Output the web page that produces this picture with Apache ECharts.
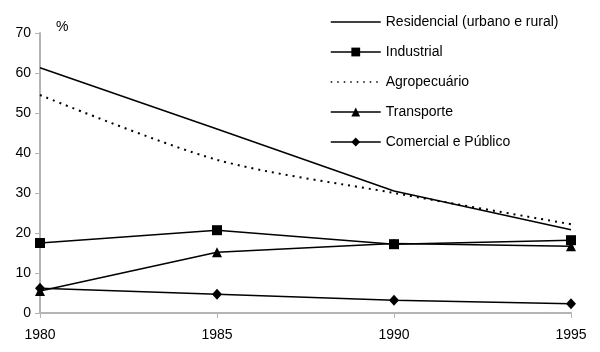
<!DOCTYPE html>
<html>
<head>
<meta charset="utf-8">
<script src="https://cdn.jsdelivr.net/npm/echarts@6/dist/echarts.min.js"></script>
<style>
  html, body { margin: 0; padding: 0; background: #fff; }
  #chart { width: 600px; height: 352px; }
</style>
</head>
<body>
<div id="chart"></div>
<script>
const years = ["1980", "1985", "1990", "1995"];
const residencial = [61.3, 46.0, 30.5, 20.8];
const industrial = [17.5, 20.7, 17.2, 18.2];
const agropecuario = [54.5, 38.3, 30.0, 22.2];
const transporte = [5.5, 15.2, 17.4, 16.7];
const comercial = [6.2, 4.7, 3.2, 2.3];
const yTicks = { min: 0, max: 70, interval: 10 };

const lineBase = { color: "#000", width: 1.5 };

let option = {
  animation: false,
  textStyle: { fontFamily: "Liberation Sans, Arial, sans-serif" },
  legend: {
    orient: "vertical",
    left: 330,
    top: 15,
    padding: 0,
    itemWidth: 50,
    itemHeight: 11,
    itemGap: 16,
    lineStyle: { width: 1.5 },
    textStyle: { color: "#000", fontSize: 14 },
    data: [
      { name: "Residencial (urbano e rural)", itemStyle: { opacity: 0 } },
      "Industrial",
      { name: "Agropecuário", itemStyle: { opacity: 0 }, lineStyle: { width: 1.5, type: [1.5, 5] } },
      "Transporte",
      "Comercial e Público"
    ]
  },
  grid: { left: 40, right: 29, top: 33, bottom: 39 },
  xAxis: {
    type: "category",
    boundaryGap: false,
    data: years,
    axisLine: { lineStyle: { color: "#b4b4b4", width: 2 } },
    axisTick: { show: true, length: 5, lineStyle: { color: "#b4b4b4", width: 1 } },
    axisLabel: { color: "#000", fontSize: 14, margin: 15 }
  },
  yAxis: {
    type: "value",
    min: yTicks.min,
    max: yTicks.max,
    interval: yTicks.interval,
    name: "%",
    nameLocation: "end",
    nameGap: -1,
    nameTextStyle: { color: "#000", fontSize: 14, align: "left", padding: [0, 0, 0, 16] },
    axisLine: { show: true, lineStyle: { color: "#b4b4b4", width: 2 } },
    axisTick: { show: true, length: 5, lineStyle: { color: "#b4b4b4", width: 1 } },
    axisLabel: { color: "#000", fontSize: 14, margin: 9 },
    splitLine: { show: false }
  },
  series: [
    {
      name: "Residencial (urbano e rural)",
      type: "line",
      data: residencial,
      symbol: "none",
      itemStyle: { color: "#000" },
      lineStyle: lineBase
    },
    {
      name: "Industrial",
      type: "line",
      data: industrial,
      symbol: "rect",
      symbolSize: 10,
      itemStyle: { color: "#000" },
      lineStyle: lineBase
    },
    {
      name: "Agropecuário",
      type: "line",
      data: agropecuario,
      symbol: "none",
      smooth: 0.3,
      itemStyle: { color: "#000" },
      lineStyle: { color: "#000", width: 2, type: [2, 5] }
    },
    {
      name: "Transporte",
      type: "line",
      data: transporte,
      symbol: "triangle",
      symbolSize: 10,
      itemStyle: { color: "#000" },
      lineStyle: lineBase
    },
    {
      name: "Comercial e Público",
      type: "line",
      data: comercial,
      symbol: "diamond",
      symbolSize: [10, 11],
      itemStyle: { color: "#000" },
      lineStyle: lineBase
    }
  ]
};

let myChart = echarts.init(document.getElementById("chart"));
myChart.setOption(option);
</script>
</body>
</html>
